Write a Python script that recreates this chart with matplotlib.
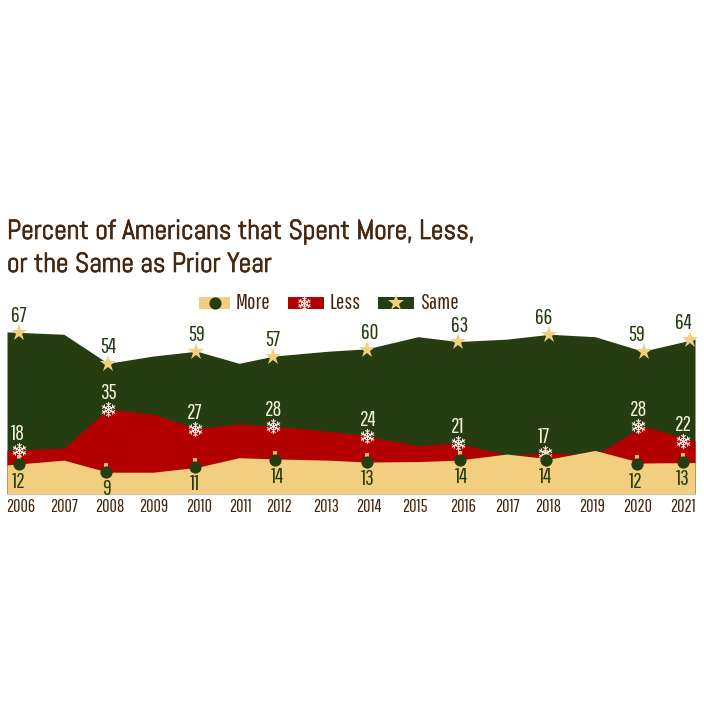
import numpy as np
import matplotlib
matplotlib.use("Agg")
import matplotlib.pyplot as plt
import matplotlib.patheffects as pe
from matplotlib.lines import Line2D
from matplotlib.patches import Rectangle
from matplotlib.path import Path

TITLE_FONT = "Abel"
TEXT_FONT = "Pathway Gothic One"
plt.rcParams["font.family"] = [TEXT_FONT, "DejaVu Sans"]

# ---- values
years = [2006, 2007, 2008, 2009, 2010, 2011, 2012, 2013, 2014, 2015, 2016, 2017, 2018, 2019, 2020, 2021]
more = [12, 14, 9, 9, 11, 15, 14.5, 14, 13.2, 13.4, 14, 16.5, 14.5, 18, 12.8, 13]
less = [18, 19, 35, 33, 27, 29, 28, 26, 24, 20, 21, 16, 17, 16, 28, 22]
same = [67, 66, 54, 57, 59, 54, 57, 59, 60, 65, 63, 64, 66, 65, 59, 64]
more_labels = [12, 9, 11, 14, 13, 14, 14, 12, 13]
less_labels = [18, 35, 27, 28, 24, 21, 17, 28, 22]
same_labels = [67, 54, 59, 57, 60, 63, 66, 59, 64]
title_lines = ["Percent of Americans that Spent More, Less,", "or the Same as Prior Year"]
legend_names = ["More", "Less", "Same"]

# ---- layout: the reference's time axis is slightly uneven (fractional years)
year_x = [2006.0, 2007.24, 2008.2, 2009.18, 2010.14, 2011.06, 2011.82, 2013.0, 2013.85, 2014.96, 2015.83, 2016.9, 2017.84, 2018.82, 2019.86, 2021.0]
tick_x = [2006.3, 2007.25, 2008.25, 2009.2, 2010.18, 2011.08, 2011.93, 2012.95, 2013.89, 2014.89, 2015.94, 2016.9, 2017.8, 2018.75, 2019.75, 2020.74]
more_x = [2006.26, 2008.16, 2010.1, 2011.84, 2013.85, 2015.87, 2017.75, 2019.73, 2020.74]
less_x = [2006.26, 2008.2, 2010.1, 2011.8, 2013.85, 2015.83, 2017.73, 2019.75, 2020.74]
same_x = [2006.26, 2008.2, 2010.12, 2011.8, 2013.85, 2015.83, 2017.82, 2019.88, 2020.89]
more_tx = [2006.26, 2008.16, 2010.1, 2011.9, 2013.87, 2015.9, 2017.73, 2019.71, 2020.74]
less_tx = [2006.24, 2008.2, 2010.1, 2011.82, 2013.87, 2015.83, 2017.71, 2019.78, 2020.74]
same_tx = [2006.26, 2008.2, 2010.12, 2011.8, 2013.9, 2015.87, 2017.71, 2019.73, 2020.74]

GOLD, RED, GREEN = "#F2CF7E", "#B30000", "#253D10"
BROWN = "#45260E"
CREAM = "#F2F3D8"
FLAKE = "#F6E2DC"


def snowflake():
    verts, codes = [], []
    for k in range(6):
        a = np.pi / 2 + k * np.pi / 3
        u = np.array([np.cos(a), np.sin(a)])
        verts += [(0, 0), tuple(u)]
        codes += [Path.MOVETO, Path.LINETO]
        for r, length in ((0.62, 0.36), (0.34, 0.24)):
            base = u * r
            for da in (-np.pi / 3, np.pi / 3):
                tip = base + length * np.array([np.cos(a + da), np.sin(a + da)])
                verts += [tuple(base), tuple(tip)]
                codes += [Path.MOVETO, Path.LINETO]
    return Path(verts, codes)


FLAKE_MARK = snowflake()

fig = plt.figure(figsize=(7.04, 7.04), dpi=100, facecolor="white")
# axes: 7..695 px wide, baseline at 494 px, 2.42 px per percent
ax = fig.add_axes([7 / 704, (704 - 494) / 704, 688 / 704, 242 / 704])
ax.set_xlim(2006, 2021)
ax.set_ylim(0, 100)
ax.axis("off")

ax.fill_between(year_x, same, color=GREEN, lw=0, zorder=1)
ax.fill_between(year_x, less, color=RED, lw=0, zorder=2)
ax.fill_between(year_x, more, color=GOLD, lw=0, zorder=3)
ax.plot([2006, 2021], [0, 0], color="#CFC6AE", lw=1, zorder=4, clip_on=False)

VAL = 15.5
for i in range(len(more_labels)):
    ym, yl, ys = more_labels[i], less_labels[i], same_labels[i]
    ax.plot([more_x[i]], [ym + 0.2], "o", ms=8.8, color=GREEN, mew=0, zorder=7, clip_on=False)
    ax.plot([more_x[i]], [ym + 3.1], "s", ms=2.2, color="#F4B860", mew=0, zorder=6, clip_on=False)
    ax.text(more_tx[i], ym - 7.0, str(ym), ha="center", va="center", color=GREEN, fontsize=VAL, zorder=8, clip_on=False)
    ax.plot([less_x[i]], [yl], marker=FLAKE_MARK, ms=11, mew=0.8, mec=FLAKE, mfc="none", zorder=6, clip_on=False)
    ax.text(less_tx[i], yl + 6.6, str(yl), ha="center", va="center", color=CREAM, fontsize=VAL, zorder=8, clip_on=False)
    ax.plot([same_x[i]], [ys - 0.3], marker="*", ms=12.5, color=GOLD, mew=0, zorder=7, clip_on=False)
    ax.text(same_tx[i], ys + 6.6, str(ys), ha="center", va="center", color=GREEN, fontsize=VAL, zorder=8, clip_on=False)

for yr, x in zip(years, tick_x):
    ax.text(x, -5.4, str(yr), ha="center", va="center", color=BROWN, fontsize=13, clip_on=False)

for line, y in zip(title_lines, [239, 272]):
    fig.text(7 / 704, 1 - y / 704, line, ha="left", va="baseline", color=BROWN, fontsize=19.9,
             family=[TITLE_FONT, "DejaVu Sans"],
             path_effects=[pe.withStroke(linewidth=0.5, foreground=BROWN)])

swatches = [(199, 230), (288, 324), (378, 414)]
for name, px, col in zip(legend_names, swatches, [GOLD, RED, GREEN]):
    fig.add_artist(Rectangle((px[0] / 704, 1 - 309 / 704), (px[1] - px[0]) / 704, 12 / 704,
                             transform=fig.transFigure, facecolor=col, edgecolor="none"))
    fig.text((px[1] + 6) / 704, 1 - 303 / 704, name, ha="left", va="center", color=BROWN, fontsize=16)
for px, kw in ((215, dict(marker="o", ms=8.8, color=GREEN, mew=0)),
               (304, dict(marker=FLAKE_MARK, ms=10, mew=0.8, mec=FLAKE, mfc="none")),
               (396, dict(marker="*", ms=12.5, color=GOLD, mew=0))):
    fig.add_artist(Line2D([px / 704], [1 - 303 / 704], transform=fig.transFigure, **kw))

fig.savefig("out.png", dpi=100, facecolor="white")
